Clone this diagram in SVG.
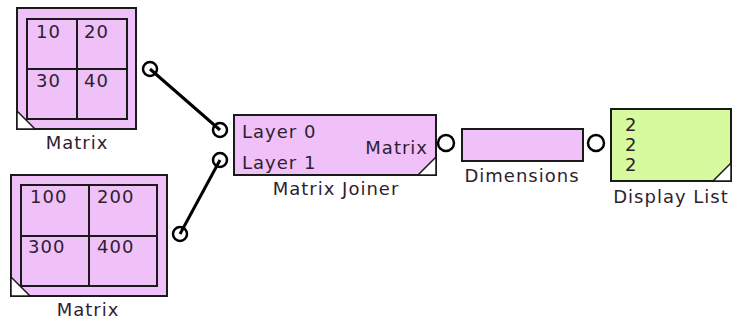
<svg xmlns="http://www.w3.org/2000/svg" width="733" height="320" viewBox="0 0 733 320">
<style>
text{font-family:"DejaVu Sans","Verdana",sans-serif;font-size:18px;letter-spacing:1px;fill:#2e1e30}
.box{fill:#f0c0f9;stroke:#1a1a1a;stroke-width:2}
.grid{fill:none;stroke:#1a1a1a;stroke-width:2}
.tri{fill:#fff;stroke:#1a1a1a;stroke-width:1.5}
.port{fill:none;stroke:#000;stroke-width:2.5}
.wire{stroke:#000;stroke-width:3;fill:none}
.lbl{text-anchor:middle}
</style>
<g id="connectors">
<line class="wire" x1="150" y1="69" x2="220" y2="130"/>
<line class="wire" x1="180" y1="234" x2="220" y2="160"/>
</g>
<g id="matrix1">
<rect class="box" x="17" y="8" width="119" height="121"/>
<rect class="grid" x="27" y="19" width="100" height="100"/>
<line class="grid" x1="77" y1="19" x2="77" y2="119"/>
<line class="grid" x1="27" y1="69" x2="127" y2="69"/>
<text x="36" y="38">10</text>
<text x="84" y="38">20</text>
<text x="36" y="87">30</text>
<text x="84" y="87">40</text>
<polygon class="tri" points="17,111 17,129 35,129"/>
<circle class="port" cx="150" cy="69" r="7"/>
<text class="lbl" x="77" y="149">Matrix</text>
</g>
<g id="matrix2">
<rect class="box" x="11" y="175" width="156" height="121"/>
<rect class="grid" x="21" y="185" width="136" height="101"/>
<line class="grid" x1="89" y1="185" x2="89" y2="286"/>
<line class="grid" x1="21" y1="236" x2="157" y2="236"/>
<text x="30" y="203">100</text>
<text x="97" y="203">200</text>
<text x="28" y="253">300</text>
<text x="97" y="253">400</text>
<polygon class="tri" points="11,277 11,296 30,296"/>
<circle class="port" cx="180" cy="234" r="7"/>
<text class="lbl" x="88" y="316">Matrix</text>
</g>
<g id="joiner">
<rect class="box" x="234" y="115" width="202" height="60"/>
<text x="242" y="138">Layer 0</text>
<text x="242" y="169">Layer 1</text>
<text x="428" y="154" text-anchor="end">Matrix</text>
<polygon class="tri" points="436,157 436,175 418,175"/>
<circle class="port" cx="220" cy="130" r="7"/>
<circle class="port" cx="220" cy="160" r="7"/>
<text class="lbl" x="336" y="195">Matrix Joiner</text>
</g>
<g id="dimensions">
<circle class="port" cx="446" cy="143" r="8"/>
<rect class="box" x="462" y="129" width="121" height="32"/>
<circle class="port" cx="596" cy="143" r="8"/>
<text class="lbl" x="522" y="182">Dimensions</text>
</g>
<g id="displaylist">
<rect x="611" y="109" width="120" height="72" fill="#d7fa9e" stroke="#1a1a1a" stroke-width="2"/>
<text x="625" y="131">2</text>
<text x="625" y="151">2</text>
<text x="625" y="171">2</text>
<polygon class="tri" points="731,163 731,181 713,181"/>
<text class="lbl" x="671" y="203">Display List</text>
</g>
</svg>
